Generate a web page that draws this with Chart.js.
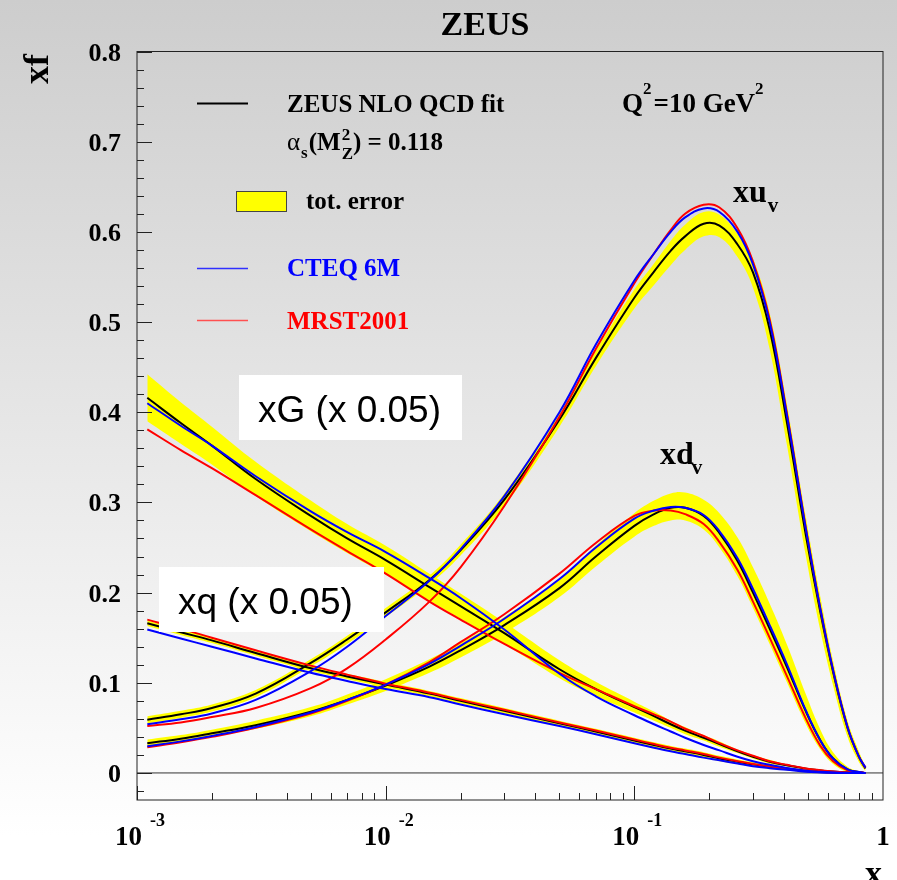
<!DOCTYPE html>
<html>
<head>
<meta charset="utf-8">
<script src="https://cdn.jsdelivr.net/npm/chart.js@4.4.1/dist/chart.umd.min.js"></script>
<style>
  body { margin: 0; background: #fff; }
  #wrap { width: 897px; height: 880px; }
</style>
</head>
<body>
<div id="wrap"><canvas id="pdfChart"></canvas></div>
<script>
const xGrid = [0.0011, 0.0015, 0.002, 0.003, 0.005, 0.007, 0.01, 0.015, 0.02, 0.03, 0.05, 0.07, 0.1, 0.12, 0.14, 0.16, 0.19, 0.22, 0.26, 0.3, 0.35, 0.41, 0.49, 0.56, 0.63, 0.72, 0.8, 0.85]

// xu_v
const uvZeus = [0.059, 0.065, 0.072, 0.088, 0.122, 0.148, 0.178, 0.214, 0.247, 0.303, 0.392, 0.460, 0.527, 0.556, 0.579, 0.595, 0.609, 0.607, 0.586, 0.555, 0.492, 0.390, 0.263, 0.178, 0.112, 0.050, 0.018, 0.005]
const uvLo   = [0.055, 0.061, 0.068, 0.084, 0.118, 0.143, 0.173, 0.209, 0.241, 0.296, 0.384, 0.451, 0.515, 0.541, 0.563, 0.580, 0.595, 0.594, 0.572, 0.538, 0.470, 0.365, 0.240, 0.158, 0.097, 0.040, 0.012, 0.002]
const uvHi   = [0.063, 0.069, 0.076, 0.092, 0.126, 0.152, 0.183, 0.219, 0.253, 0.310, 0.400, 0.468, 0.536, 0.565, 0.590, 0.608, 0.622, 0.619, 0.598, 0.570, 0.510, 0.410, 0.283, 0.195, 0.124, 0.058, 0.024, 0.007]
const uvCteq = [0.054, 0.0595, 0.066, 0.081, 0.113, 0.140, 0.174, 0.213, 0.248, 0.307, 0.400, 0.475, 0.546, 0.576, 0.600, 0.616, 0.626, 0.622, 0.600, 0.564, 0.500, 0.398, 0.270, 0.182, 0.114, 0.051, 0.018, 0.006]
const uvMrst = [0.052, 0.056, 0.062, 0.072, 0.094, 0.116, 0.148, 0.190, 0.228, 0.296, 0.395, 0.470, 0.543, 0.576, 0.602, 0.620, 0.630, 0.627, 0.604, 0.567, 0.503, 0.400, 0.271, 0.182, 0.114, 0.051, 0.018, 0.006]

// xd_v
const dvZeus = [0.033, 0.038, 0.044, 0.053, 0.068, 0.081, 0.097, 0.118, 0.136, 0.164, 0.205, 0.240, 0.274, 0.287, 0.294, 0.294, 0.285, 0.266, 0.235, 0.200, 0.160, 0.118, 0.068, 0.036, 0.016, 0.004, 0.001, 0]
const dvLo   = [0.029, 0.034, 0.040, 0.049, 0.063, 0.076, 0.091, 0.111, 0.128, 0.155, 0.195, 0.229, 0.262, 0.274, 0.280, 0.280, 0.270, 0.250, 0.218, 0.183, 0.143, 0.101, 0.054, 0.026, 0.010, 0.001, 0, 0]
const dvHi   = [0.037, 0.042, 0.048, 0.058, 0.073, 0.087, 0.104, 0.126, 0.144, 0.173, 0.215, 0.252, 0.288, 0.302, 0.310, 0.311, 0.303, 0.288, 0.261, 0.228, 0.188, 0.143, 0.087, 0.048, 0.023, 0.007, 0.002, 0.0005]
const dvCteq = [0.0296, 0.035, 0.041, 0.051, 0.067, 0.081, 0.098, 0.121, 0.141, 0.171, 0.215, 0.250, 0.282, 0.291, 0.295, 0.294, 0.286, 0.268, 0.238, 0.204, 0.164, 0.121, 0.069, 0.036, 0.016, 0.004, 0.001, 0]
const dvMrst = [0.0285, 0.034, 0.040, 0.050, 0.066, 0.080, 0.098, 0.123, 0.145, 0.176, 0.221, 0.255, 0.285, 0.291, 0.291, 0.287, 0.276, 0.256, 0.225, 0.190, 0.150, 0.108, 0.060, 0.030, 0.013, 0.003, 0.001, 0]

// xG (x 0.05)
const gZeus = [0.416, 0.388, 0.363, 0.326, 0.285, 0.260, 0.236, 0.206, 0.185, 0.155, 0.115, 0.093, 0.073, 0.063, 0.054, 0.047, 0.039, 0.032, 0.024, 0.018, 0.0125, 0.0085, 0.0048, 0.0028, 0.0015, 0.0006, 0.0002, 0]
const gLo   = [0.390, 0.365, 0.342, 0.307, 0.268, 0.244, 0.220, 0.191, 0.171, 0.143, 0.105, 0.085, 0.067, 0.058, 0.050, 0.043, 0.036, 0.029, 0.022, 0.016, 0.0105, 0.0075, 0.0038, 0.0018, 0.001, 0.0003, 0.0001, 0]
const gHi   = [0.442, 0.411, 0.384, 0.345, 0.302, 0.276, 0.252, 0.221, 0.199, 0.167, 0.125, 0.101, 0.079, 0.068, 0.058, 0.051, 0.042, 0.035, 0.026, 0.020, 0.0145, 0.0095, 0.0058, 0.0038, 0.002, 0.0009, 0.0003, 0]
const gCteq = [0.410, 0.385, 0.363, 0.329, 0.290, 0.267, 0.245, 0.216, 0.194, 0.159, 0.110, 0.085, 0.064, 0.054, 0.046, 0.039, 0.031, 0.025, 0.018, 0.013, 0.009, 0.0055, 0.0025, 0.0012, 0.0005, 0.0001, 0, 0]
const gMrst = [0.381, 0.358, 0.338, 0.308, 0.270, 0.246, 0.221, 0.190, 0.170, 0.143, 0.111, 0.093, 0.074, 0.065, 0.057, 0.049, 0.041, 0.033, 0.025, 0.019, 0.013, 0.009, 0.005, 0.003, 0.0016, 0.0006, 0.0002, 0]

// xq (x 0.05)
const qZeus = [0.166, 0.156, 0.147, 0.133, 0.116, 0.107, 0.098, 0.088, 0.080, 0.069, 0.055, 0.046, 0.036, 0.031, 0.027, 0.024, 0.020, 0.016, 0.0125, 0.0095, 0.0068, 0.0045, 0.0022, 0.0011, 0.0005, 0.0002, 0, 0]
const qLo   = [0.163, 0.153, 0.144, 0.130, 0.113, 0.104, 0.095, 0.085, 0.077, 0.066, 0.052, 0.043, 0.033, 0.028, 0.024, 0.021, 0.017, 0.013, 0.010, 0.007, 0.0048, 0.003, 0.001, 0.0004, 0.0001, 0, 0, 0]
const qHi   = [0.169, 0.159, 0.150, 0.136, 0.119, 0.110, 0.101, 0.091, 0.083, 0.072, 0.058, 0.049, 0.039, 0.034, 0.030, 0.027, 0.023, 0.019, 0.015, 0.012, 0.0088, 0.006, 0.0034, 0.0021, 0.0011, 0.0005, 0.0001, 0]
const qCteq = [0.159, 0.149, 0.140, 0.127, 0.111, 0.102, 0.093, 0.084, 0.076, 0.065, 0.052, 0.043, 0.033, 0.028, 0.024, 0.021, 0.017, 0.014, 0.0105, 0.0075, 0.0053, 0.0035, 0.0014, 0.0006, 0.0002, 0, 0, 0]
const qMrst = [0.170, 0.160, 0.150, 0.136, 0.119, 0.109, 0.099, 0.089, 0.081, 0.070, 0.056, 0.047, 0.037, 0.032, 0.028, 0.025, 0.021, 0.017, 0.013, 0.010, 0.0072, 0.0048, 0.0024, 0.0012, 0.0005, 0.0002, 0, 0]

// axis labels
const yTickVals = [0, 0.1, 0.2, 0.3, 0.4, 0.5, 0.6, 0.7, 0.8]
const yTickLabels = ['0', '0.1', '0.2', '0.3', '0.4', '0.5', '0.6', '0.7', '0.8']
const xTickVals = [0.001, 0.01, 0.1, 1]
const xTickBase = ['10', '10', '10', '1']
const xTickExp = ['-3', '-2', '-1', '']

const serif = "'Liberation Serif', 'Times New Roman', serif"
const sans = "'Liberation Sans', Arial, sans-serif"

const pts = vals => xGrid.map((x, i) => ({x: x, y: vals[i]}))

function curve(vals, color, order) {
    return {
        data: pts(vals),
        borderColor: color,
        borderWidth: 2,
        pointRadius: 0,
        fill: false,
        tension: 0.4,
        order: order
    }
}

function band(hi, lo) {
    return [{
        data: pts(hi),
        borderColor: 'rgba(0,0,0,0)',
        borderWidth: 0,
        backgroundColor: '#ffff00',
        pointRadius: 0,
        fill: '+1',
        tension: 0.4,
        order: 10
    }, {
        data: pts(lo),
        borderColor: 'rgba(0,0,0,0)',
        borderWidth: 0,
        pointRadius: 0,
        fill: false,
        tension: 0.4,
        order: 10
    }]
}

function txt(ctx, s, x, y, font, color, align) {
    ctx.font = font
    ctx.fillStyle = color || '#000'
    ctx.textAlign = align || 'left'
    ctx.textBaseline = 'alphabetic'
    ctx.fillText(s, x, y)
    return ctx.measureText(s).width
}

const rootStyle = {
    id: 'rootStyle',
    beforeDraw(chart) {
        const ctx = chart.ctx
        const g = ctx.createLinearGradient(0, 0, 0, chart.height)
        g.addColorStop(0, '#cdcdcd')
        g.addColorStop(0.95, '#ffffff')
        g.addColorStop(1, '#ffffff')
        ctx.save()
        ctx.fillStyle = g
        ctx.fillRect(0, 0, chart.width, chart.height)
        ctx.restore()
    },
    beforeDatasetsDraw(chart) {
        const ctx = chart.ctx
        const a = chart.chartArea
        const y0 = chart.scales.y.getPixelForValue(0)
        ctx.save()
        ctx.strokeStyle = '#333'
        ctx.lineWidth = 1
        ctx.beginPath()
        ctx.moveTo(a.left, y0)
        ctx.lineTo(a.right, y0)
        ctx.stroke()
        ctx.restore()
    },
    afterDatasetsDraw(chart) {
        const ctx = chart.ctx
        const a = chart.chartArea
        const xs = chart.scales.x
        const ys = chart.scales.y
        ctx.save()
        ctx.strokeStyle = '#222'
        ctx.lineWidth = 1
        ctx.strokeRect(a.left, a.top, a.right - a.left, a.bottom - a.top)
        ctx.beginPath()
        // y ticks, inside the frame
        for (let k = -1; k <= 40; k++) {
            const v = k * 0.02
            if (v > 0.8001) break
            const py = Math.round(ys.getPixelForValue(v)) + 0.5
            const len = (k % 5 === 0) ? 15 : 7
            ctx.moveTo(a.left, py)
            ctx.lineTo(a.left + len, py)
        }
        // x ticks
        for (let d = -3; d < 0; d++) {
            for (let m = 1; m <= 9; m++) {
                const px = Math.round(xs.getPixelForValue(m * Math.pow(10, d))) + 0.5
                const len = m === 1 ? 14 : 7
                ctx.moveTo(px, a.bottom)
                ctx.lineTo(px, a.bottom - len)
            }
        }
        ctx.stroke()
        ctx.restore()

        ctx.save()
        yTickVals.forEach((v, i) => {
            const py = ys.getPixelForValue(v)
            txt(ctx, yTickLabels[i], 121, py + 9, 'bold 26px ' + serif, '#000', 'right')
        })
        xTickVals.forEach((v, i) => {
            const px = xs.getPixelForValue(v)
            if (xTickExp[i]) {
                txt(ctx, xTickBase[i], px + 5, 845, 'bold 27px ' + serif, '#000', 'right')
                txt(ctx, xTickExp[i], px + 13, 826, 'bold 18px ' + serif, '#000', 'left')
            } else {
                txt(ctx, xTickBase[i], px, 845, 'bold 27px ' + serif, '#000', 'center')
            }
        })
        ctx.restore()
    },
    afterDraw(chart) {
        const ctx = chart.ctx
        ctx.save()
        // title and axis titles
        txt(ctx, 'ZEUS', 485, 35, 'bold 34px ' + serif, '#000', 'center')
        txt(ctx, 'x', 882, 884, 'bold 34px ' + serif, '#000', 'right')
        ctx.save()
        ctx.translate(48, 69)
        ctx.rotate(-Math.PI / 2)
        txt(ctx, 'xf', 0, 0, 'bold 36px ' + serif, '#000', 'center')
        ctx.restore()

        // legend
        ctx.lineWidth = 2
        ctx.strokeStyle = '#000'
        ctx.beginPath(); ctx.moveTo(197, 103.5); ctx.lineTo(248, 103.5); ctx.stroke()
        txt(ctx, 'ZEUS NLO QCD fit', 287, 111.5, 'bold 25px ' + serif)

        let x = 287
        x += txt(ctx, 'α', x, 150, '25px ' + serif)
        x += txt(ctx, 's', x + 1, 158, 'bold 17px ' + serif) + 2
        x += txt(ctx, '(M', x, 150, 'bold 25px ' + serif)
        txt(ctx, '2', x + 1, 140, 'bold 17px ' + serif)
        x += txt(ctx, 'Z', x + 1, 159, 'bold 17px ' + serif) + 1
        txt(ctx, ') = 0.118', x, 150, 'bold 25px ' + serif)

        ctx.fillStyle = '#ffff00'
        ctx.fillRect(236, 191, 50, 20)
        ctx.lineWidth = 1
        ctx.strokeStyle = '#444'
        ctx.strokeRect(236.5, 191.5, 50, 20)
        txt(ctx, 'tot. error', 306, 209, 'bold 25px ' + serif)

        ctx.lineWidth = 1.5
        ctx.strokeStyle = '#3030ff'
        ctx.beginPath(); ctx.moveTo(197, 268.5); ctx.lineTo(248, 268.5); ctx.stroke()
        txt(ctx, 'CTEQ 6M', 287, 276, 'bold 25px ' + serif, '#0000ff')
        ctx.strokeStyle = '#ff5050'
        ctx.beginPath(); ctx.moveTo(197, 320.5); ctx.lineTo(248, 320.5); ctx.stroke()
        txt(ctx, 'MRST2001', 287, 328.5, 'bold 25px ' + serif, '#ff0000')

        // Q^2 label
        x = 622
        x += txt(ctx, 'Q', x, 111.5, 'bold 27px ' + serif)
        x += txt(ctx, '2', x, 94, 'bold 17px ' + serif)
        x += txt(ctx, '=10 GeV', x + 2, 111.5, 'bold 27px ' + serif) + 2
        txt(ctx, '2', x, 94, 'bold 17px ' + serif)

        // curve names
        x = 733
        x += txt(ctx, 'xu', x, 201.5, 'bold 32px ' + serif)
        txt(ctx, 'v', x + 1, 212, 'bold 21px ' + serif)
        x = 660
        x += txt(ctx, 'xd', x, 463.5, 'bold 32px ' + serif)
        txt(ctx, 'v', x - 2, 473.5, 'bold 21px ' + serif)

        // white label boxes
        ctx.fillStyle = '#ffffff'
        ctx.fillRect(239, 375, 223, 65)
        txt(ctx, 'xG (x 0.05)', 258, 421.5, '37px ' + sans)
        ctx.fillStyle = '#ffffff'
        ctx.fillRect(159, 567, 225, 65)
        txt(ctx, 'xq (x 0.05)', 178, 613.5, '37px ' + sans)
        ctx.restore()
    }
}

const ctx = document.getElementById('pdfChart').getContext('2d')
const pdfChart = new Chart(ctx, {
    type: 'line',
    data: {
        datasets: [
            curve(uvZeus, '#000000', 3),
            curve(uvMrst, '#ff0000', 2),
            curve(uvCteq, '#0000ff', 1),
            curve(dvZeus, '#000000', 3),
            curve(dvMrst, '#ff0000', 2),
            curve(dvCteq, '#0000ff', 1),
            curve(gZeus, '#000000', 3),
            curve(gMrst, '#ff0000', 2),
            curve(gCteq, '#0000ff', 1),
            curve(qZeus, '#000000', 3),
            curve(qMrst, '#ff0000', 2),
            curve(qCteq, '#0000ff', 1),
            ...band(uvHi, uvLo),
            ...band(dvHi, dvLo),
            ...band(gHi, gLo),
            ...band(qHi, qLo)
        ]
    },
    options: {
        responsive: true,
        maintainAspectRatio: false,
        animation: false,
        layout: {
            padding: {left: 137, right: 14, top: 51.5, bottom: 80}
        },
        plugins: {
            legend: {display: false},
            tooltip: {enabled: false},
            filler: {propagate: false}
        },
        scales: {
            x: {
                type: 'logarithmic',
                min: 0.001,
                max: 1,
                display: false
            },
            y: {
                type: 'linear',
                min: -0.03,
                max: 0.8,
                display: false
            }
        }
    },
    plugins: [rootStyle]
});
</script>
</body>
</html>
